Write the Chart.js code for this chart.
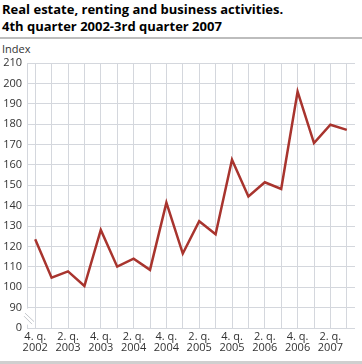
<!DOCTYPE html>
<html>
<head>
<meta charset="utf-8">
<script src="https://cdn.jsdelivr.net/npm/chart.js@4/dist/chart.umd.min.js"></script>
<style>
    html, body { margin: 0; padding: 0; background: #ffffff; }
    body { width: 362px; height: 364px; position: relative; overflow: hidden; font-family: "Open Sans", sans-serif; }
    .title { position: absolute; left: 2px; top: 1px; font-size: 13px; font-weight: bold; line-height: 17px; color: #000; white-space: nowrap; }
    .rule-top { position: absolute; left: 0; top: 37px; width: 362px; height: 2px; background: #bdbdbd; }
    .unit { position: absolute; left: 2px; top: 41px; font-size: 11px; color: #333; }
    .rule-bottom { position: absolute; left: 0; top: 361px; width: 362px; height: 3px; background: #cfcfcf; }
    #chart { position: absolute; left: 0; top: 0; }
</style>
</head>
<body>
<div class="title">Real estate, renting and business activities.<br>4th quarter 2002-3rd quarter 2007</div>
<div class="rule-top"></div>
<div class="unit">Index</div>
<canvas id="chart" width="362" height="364"></canvas>
<div class="rule-bottom"></div>
<script>
// quarters, 4th quarter 2002 to 3rd quarter 2007
const quarters = [
    '4. q. 2002', '1. q. 2003', '2. q. 2003', '3. q. 2003', '4. q. 2003',
    '1. q. 2004', '2. q. 2004', '3. q. 2004', '4. q. 2004',
    '1. q. 2005', '2. q. 2005', '3. q. 2005', '4. q. 2005',
    '1. q. 2006', '2. q. 2006', '3. q. 2006', '4. q. 2006',
    '1. q. 2007', '2. q. 2007', '3. q. 2007',
];
const indexValues = [
    123.5, 104.7, 107.8, 100.6, 128.1,
    110.1, 114.0, 108.5, 141.5,
    116.5, 132.4, 126.0, 162.5,
    144.5, 151.5, 148.2, 196.0,
    170.7, 179.7, 177.2,
];
// only every second quarter is labelled
const shownTicks = ['4. q. 2002', '2. q. 2003', '4. q. 2003', '2. q. 2004', '4. q. 2004',
    '2. q. 2005', '4. q. 2005', '2. q. 2006', '4. q. 2006', '2. q. 2007'];
// the axis is broken: the lowest gridline is drawn as 0
const axisMin = 80;
const axisMax = 210;
const axisStep = 10;

const gridColor = '#d4d7dd';
const textColor = '#333333';

// two slanted strokes across the y axis between 0 and 90
const axisBreak = {
    id: 'axisBreak',
    afterDraw(chart) {
        const ctx = chart.ctx;
        const x0 = chart.chartArea.left;
        const y90 = chart.scales.y.getPixelForValue(axisMin + axisStep);
        ctx.save();
        ctx.fillStyle = '#ffffff';
        ctx.fillRect(x0 - 1.5, y90 + 1, 3, 16);
        ctx.strokeStyle = '#c4c7cc';
        ctx.lineWidth = 1;
        ctx.beginPath();
        ctx.moveTo(x0 - 2, y90 + 5.5);
        ctx.lineTo(x0 + 7, y90 + 14);
        ctx.moveTo(x0 - 3, y90 + 8.5);
        ctx.lineTo(x0 + 5, y90 + 16.5);
        ctx.stroke();
        ctx.restore();
    },
};

new Chart(document.getElementById('chart'), {
    type: 'line',
    data: {
        labels: quarters,
        datasets: [{
            data: indexValues,
            borderColor: '#a8342e',
            borderWidth: 2.5,
            pointRadius: 0,
            tension: 0,
            fill: false,
        }],
    },
    options: {
        responsive: false,
        animation: false,
        layout: { padding: { top: 63, right: 7, left: 0, bottom: 0 } },
        plugins: {
            legend: { display: false },
            tooltip: { enabled: false },
        },
        scales: {
            x: {
                offset: true,
                grid: { offset: false, color: gridColor, drawTicks: false },
                border: { display: false },
                ticks: {
                    autoSkip: false,
                    maxRotation: 0,
                    padding: 3,
                    color: textColor,
                    font: { family: 'Open Sans', size: 11, lineHeight: 1.05 },
                    callback(value) {
                        const label = quarters[value];
                        if (!shownTicks.includes(label)) return '';
                        const parts = label.split(' ');
                        return [parts[0] + ' ' + parts[1], parts[2]];
                    },
                },
                afterFit(scale) { scale.height = 36; },
            },
            y: {
                min: axisMin,
                max: axisMax,
                grid: { color: gridColor, drawTicks: false },
                border: { display: true, color: gridColor },
                ticks: {
                    stepSize: axisStep,
                    padding: 5,
                    color: textColor,
                    font: { family: 'Open Sans', size: 11 },
                    callback(value) { return value === axisMin ? '0' : value; },
                },
                afterFit(scale) { scale.width = 27; },
            },
        },
    },
    plugins: [axisBreak],
});
</script>
</body>
</html>
